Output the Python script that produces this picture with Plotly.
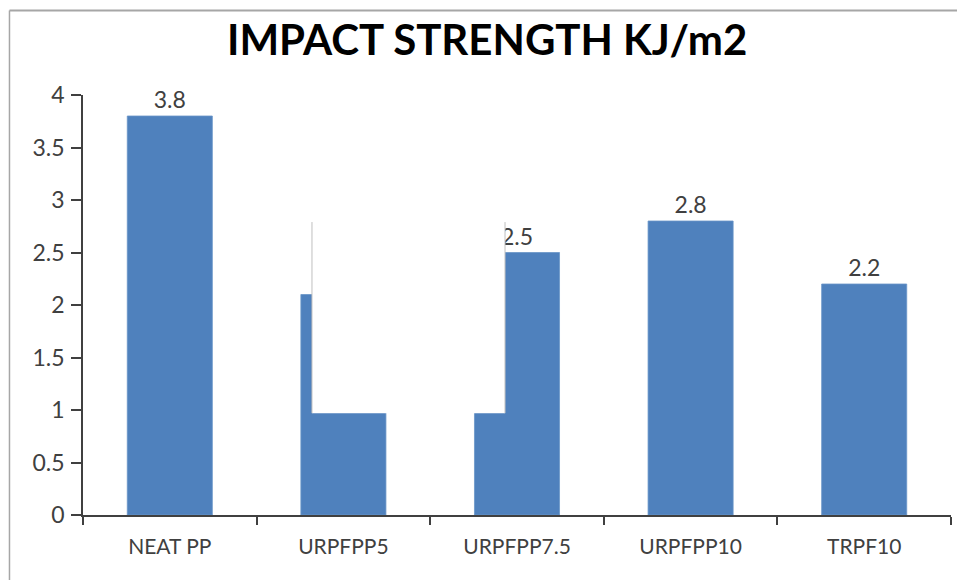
import plotly.graph_objects as go

# Impact strength of the PP composites (kJ/m2)
categories = ["NEAT PP", "URPFPP5", "URPFPP7.5", "URPFPP10", "TRPF10"]
impact_strength = [3.8, 2.1, 2.5, 2.8, 2.2]
y_ticks = [0, 0.5, 1, 1.5, 2, 2.5, 3, 3.5, 4]

BAR_COLOR = "#4F81BD"
TEXT_COLOR = "#404040"
AXIS_COLOR = "#404040"
FRAME_COLOR = "#A6A6A6"
FONT = "Lato"

fig = go.Figure(
    go.Bar(
        x=categories,
        y=impact_strength,
        marker=dict(color=BAR_COLOR, line=dict(color="#6A95C8", width=0.8)),
        text=[f"{v:g}" for v in impact_strength],
        textposition="outside",
        textfont=dict(family=FONT, size=23, color=TEXT_COLOR),
        cliponaxis=False,
    )
)

# white patch laid over the middle of the chart, edged on its sides
patch_x0, patch_x1 = 0.819, 1.931
patch_y0, patch_y1 = 0.97, 2.79
shapes = [
    dict(type="rect", xref="x", yref="y", x0=patch_x0, x1=patch_x1,
         y0=patch_y0, y1=patch_y1, fillcolor="white", line=dict(width=0),
         layer="above"),
    dict(type="line", xref="x", yref="y", x0=patch_x0, x1=patch_x0,
         y0=patch_y0, y1=patch_y1, line=dict(color="#BFBFBF", width=1),
         layer="above"),
    dict(type="line", xref="x", yref="y", x0=patch_x1, x1=patch_x1,
         y0=patch_y0, y1=patch_y1, line=dict(color="#BFBFBF", width=1),
         layer="above"),
    # outer chart frame (left and top edges)
    dict(type="line", xref="paper", yref="paper", x0=-0.0847, x1=-0.0847,
         y0=-0.16, y1=1.2012, line=dict(color=FRAME_COLOR, width=1.5)),
    dict(type="line", xref="paper", yref="paper", x0=-0.0847, x1=1.01,
         y0=1.2012, y1=1.2012, line=dict(color=FRAME_COLOR, width=2)),
]

fig.update_layout(
    width=957,
    height=580,
    margin=dict(l=83, r=6, t=95, b=65),
    paper_bgcolor="white",
    plot_bgcolor="white",
    bargap=0.51,
    showlegend=False,
    shapes=shapes,
    title=dict(
        text="<b>IMPACT STRENGTH KJ/m2</b>",
        x=0.509,
        xanchor="center",
        y=0.931,
        yanchor="middle",
        font=dict(family=FONT, size=42, color="black"),
    ),
    font=dict(family=FONT, color=TEXT_COLOR),
)

fig.update_xaxes(
    type="category",
    showline=True,
    linecolor=AXIS_COLOR,
    linewidth=1.5,
    ticks="outside",
    tickson="boundaries",
    ticklen=8,
    tickcolor=AXIS_COLOR,
    tickwidth=1.5,
    showgrid=False,
    ticklabelstandoff=12,
    tickfont=dict(family=FONT, size=21, color=TEXT_COLOR),
)

fig.update_yaxes(
    range=[0, 4],
    tickvals=y_ticks,
    ticktext=[f"{v:g}" for v in y_ticks],
    showline=True,
    linecolor=AXIS_COLOR,
    linewidth=1.5,
    ticks="outside",
    ticklen=10,
    tickcolor=AXIS_COLOR,
    tickwidth=1.5,
    showgrid=False,
    zeroline=False,
    ticklabelstandoff=2,
    tickfont=dict(family=FONT, size=23, color=TEXT_COLOR),
)

fig.write_html("out.html")
